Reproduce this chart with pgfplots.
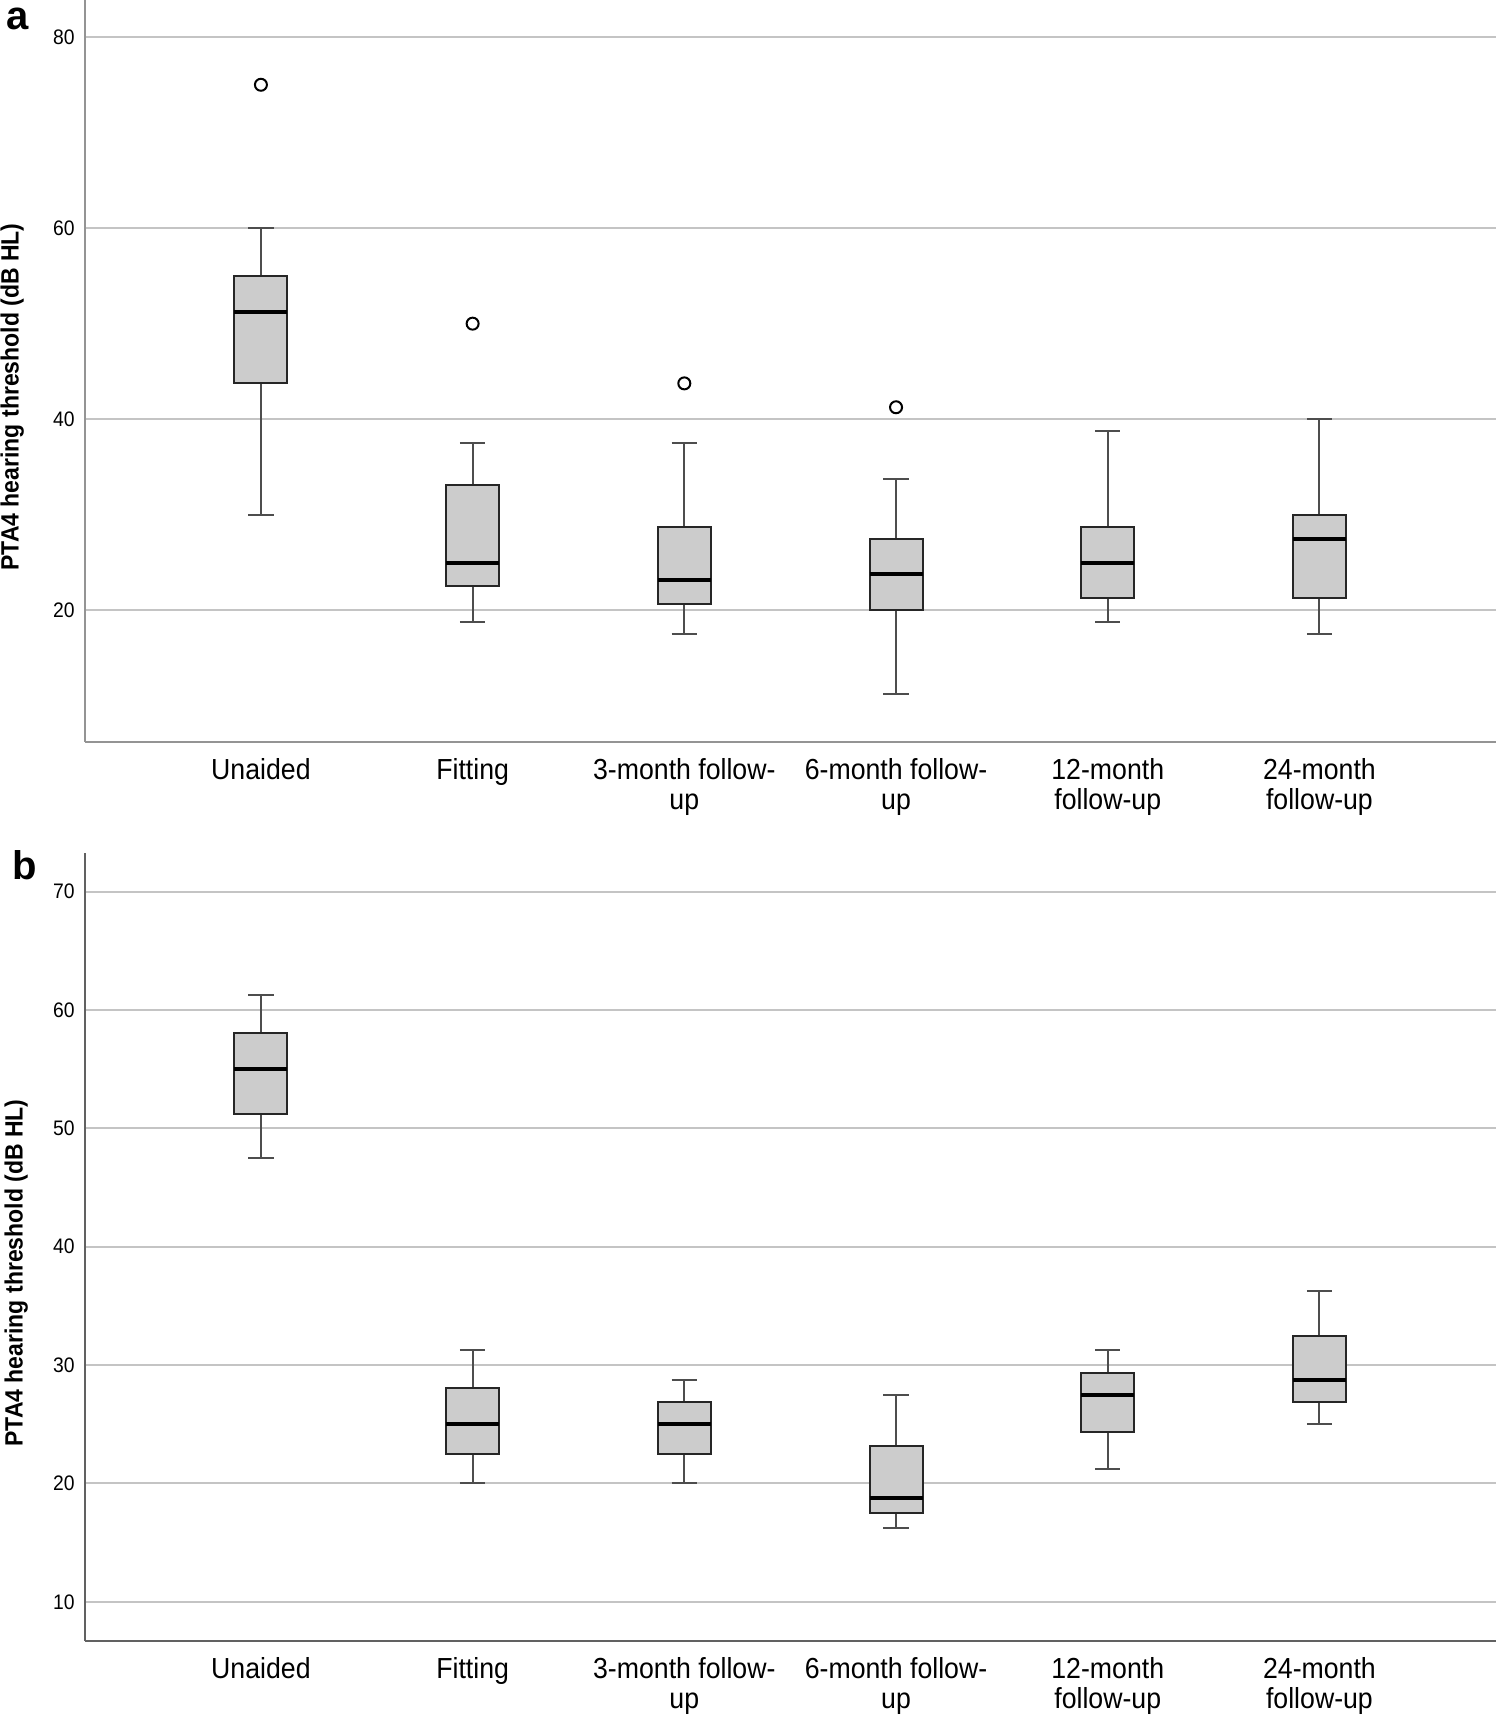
\documentclass[border=0pt]{standalone}
\usepackage{fontspec}
\setmainfont{Liberation Sans}[FakeStretch=0.92]
\newfontfamily\lettersans{Liberation Sans}
\usepackage{pgfplots}
\pgfplotsset{compat=1.18}
\usepgfplotslibrary{statistics}

\definecolor{boxfill}{HTML}{CCCCCC}
\definecolor{boxline}{HTML}{262626}
\definecolor{whisk}{HTML}{4D4D4D}
\definecolor{gridc}{HTML}{C4C4C4}

\pgfplotsset{
  spss/.style={
    scale only axis,
    width=705.5bp,
    anchor=north west,
    xmin=0.169, xmax=6.834,
    axis x line*=bottom, axis y line*=left,
    axis line style={-, line width=1bp},
    ymajorgrids,
    major grid style={gridc, line width=1bp},
    major tick length=0pt,
    xtick={1,...,6},
    xticklabels={Unaided,Fitting,{3-month follow-\\up},{6-month follow-\\up},{12-month\\follow-up},{24-month\\follow-up}},
    xticklabel style={font=\fontsize{14.5bp}{15bp}\selectfont, align=center, inner sep=0pt, yshift=-8bp},
    yticklabel style={font=\fontsize{10.5bp}{12bp}\selectfont, inner sep=0pt, xshift=-5bp},
    /pgf/number format/assume math mode=true,
    ylabel={PTA4 hearing threshold (dB HL)},
    ylabel style={font=\bfseries\fontsize{12.5bp}{14bp}\selectfont, anchor=center},
    boxplot/draw direction=y,
    boxplot/box extend=0.25,
    boxplot/whisker extend=0.12,
    boxplot/every box/.style={draw=boxline, fill=boxfill, line width=1bp},
    boxplot/every whisker/.style={draw=whisk, line width=1bp},
    boxplot/every median/.style={draw=black, line width=2bp},
  },
  outl/.style={black, mark=o, mark size=3bp, mark options={draw=black, line width=1bp, solid}},
}

\begin{document}
\begin{tikzpicture}
\useasboundingbox (0,0) rectangle (749.5bp,-858bp);

% panel a
\begin{axis}[spss,
  at={(42.5bp,0bp)}, height=371bp,
  ymin=6.22, ymax=83.87, ytick={20,40,60,80},
  axis line style={draw=black!42},
  ylabel style={at={(axis description cs:-0.0516,0.465)}},
]
\addplot[outl, boxplot prepared={draw position=1, lower whisker=30, lower quartile=43.75, median=51.25, upper quartile=55, upper whisker=60}]
  table[row sep=\\, y index=0] {y\\75\\};
\addplot[outl, boxplot prepared={draw position=2, lower whisker=18.75, lower quartile=22.5, median=25, upper quartile=33.125, upper whisker=37.5}]
  table[row sep=\\, y index=0] {y\\50\\};
\addplot[outl, boxplot prepared={draw position=3, lower whisker=17.5, lower quartile=20.625, median=23.125, upper quartile=28.75, upper whisker=37.5}]
  table[row sep=\\, y index=0] {y\\43.75\\};
\addplot[outl, boxplot prepared={draw position=4, lower whisker=11.25, lower quartile=20, median=23.75, upper quartile=27.5, upper whisker=33.75}]
  table[row sep=\\, y index=0] {y\\41.25\\};
\addplot[outl, boxplot prepared={draw position=5, lower whisker=18.75, lower quartile=21.25, median=25, upper quartile=28.75, upper whisker=38.75}]
  coordinates {};
\addplot[outl, boxplot prepared={draw position=6, lower whisker=17.5, lower quartile=21.25, median=27.5, upper quartile=30, upper whisker=40}]
  coordinates {};
\end{axis}

% panel b
\begin{axis}[spss,
  at={(42.5bp,-426.35bp)}, height=394.2bp,
  ymin=6.68, ymax=73.29, ytick={10,20,...,70},
  axis line style={draw=black!62},
  ylabel style={at={(axis description cs:-0.0487,0.467)}},
]
\addplot[outl, boxplot prepared={draw position=1, lower whisker=47.5, lower quartile=51.25, median=55, upper quartile=58.1, upper whisker=61.25}]
  coordinates {};
\addplot[outl, boxplot prepared={draw position=2, lower whisker=20, lower quartile=22.5, median=25, upper quartile=28.1, upper whisker=31.25}]
  coordinates {};
\addplot[outl, boxplot prepared={draw position=3, lower whisker=20, lower quartile=22.5, median=25, upper quartile=26.875, upper whisker=28.75}]
  coordinates {};
\addplot[outl, boxplot prepared={draw position=4, lower whisker=16.25, lower quartile=17.5, median=18.75, upper quartile=23.125, upper whisker=27.5}]
  coordinates {};
\addplot[outl, boxplot prepared={draw position=5, lower whisker=21.25, lower quartile=24.375, median=27.5, upper quartile=29.375, upper whisker=31.25}]
  coordinates {};
\addplot[outl, boxplot prepared={draw position=6, lower whisker=25, lower quartile=26.875, median=28.75, upper quartile=32.5, upper whisker=36.25}]
  coordinates {};
\end{axis}

\node[anchor=base west, inner sep=0pt, font=\lettersans\bfseries\fontsize{20bp}{24bp}\selectfont] at (3bp,-14.5bp) {a};
\node[anchor=base west, inner sep=0pt, font=\lettersans\bfseries\fontsize{20bp}{24bp}\selectfont] at (6bp,-439.5bp) {b};
\end{tikzpicture}
\end{document}
